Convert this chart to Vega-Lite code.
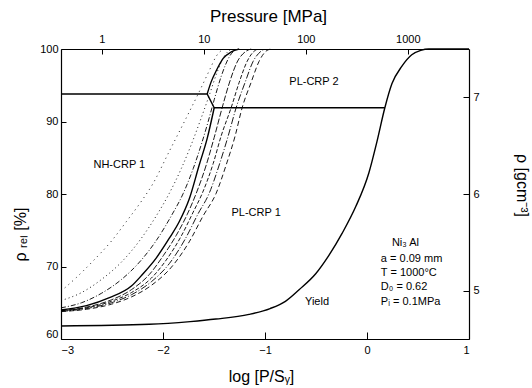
{
  "$schema": "https://vega.github.io/schema/vega-lite/v6.json",
  "width": 408,
  "height": 290,
  "autosize": {"type": "none"},
  "padding": {"left": 61, "top": 49, "right": 63, "bottom": 49},
  "background": "white",
  "config": {
    "font": "Liberation Sans",
    "view": {"stroke": null},
    "axis": {"grid": false, "domainColor": "black", "domainWidth": 1.2, "tickColor": "black", "tickWidth": 1, "labelColor": "black", "titleColor": "black", "labelFontSize": 11, "titleFontSize": 16, "titleFontWeight": "normal", "labelFont": "Liberation Sans", "titleFont": "Liberation Sans"}
  },
  "datasets": {
    "boundary": [
      {"s": "boundary", "x": -3, "y": 93.8},
      {"s": "boundary", "x": -1.567, "y": 93.8},
      {"s": "boundary", "x": -1.498, "y": 91.9},
      {"s": "boundary", "x": 0.175, "y": 91.9}
    ],
    "curves": [
      {"s": "yield", "x": -3, "y": 61.8},
      {"s": "yield", "x": -2.134, "y": 62.03},
      {"s": "yield", "x": -1.734, "y": 62.4},
      {"s": "yield", "x": -1.481, "y": 62.75},
      {"s": "yield", "x": -1.156, "y": 63.4},
      {"s": "yield", "x": -0.95, "y": 64.2},
      {"s": "yield", "x": -0.8, "y": 65.2},
      {"s": "yield", "x": -0.666, "y": 66.8},
      {"s": "yield", "x": -0.503, "y": 69.0},
      {"s": "yield", "x": -0.375, "y": 71.5},
      {"s": "yield", "x": -0.243, "y": 74.6},
      {"s": "yield", "x": -0.109, "y": 78.3},
      {"s": "yield", "x": 0.018, "y": 82.9},
      {"s": "yield", "x": 0.097, "y": 87.2},
      {"s": "yield", "x": 0.175, "y": 91.9},
      {"s": "yield", "x": 0.244, "y": 95.2},
      {"s": "yield", "x": 0.341, "y": 97.6},
      {"s": "yield", "x": 0.439, "y": 99.2},
      {"s": "yield", "x": 0.527, "y": 99.8},
      {"s": "yield", "x": 0.605, "y": 100},
      {"s": "yield", "x": 1.0, "y": 100},
      {"s": "solidLower", "x": -3, "y": 64.0},
      {"s": "solidLower", "x": -2.75, "y": 64.6},
      {"s": "solidLower", "x": -2.525, "y": 65.7},
      {"s": "solidLower", "x": -2.31, "y": 67.3},
      {"s": "solidLower", "x": -2.202, "y": 68.9},
      {"s": "solidLower", "x": -2.065, "y": 71.2},
      {"s": "solidLower", "x": -1.938, "y": 73.9},
      {"s": "solidLower", "x": -1.84, "y": 76.2},
      {"s": "solidLower", "x": -1.743, "y": 79.3},
      {"s": "solidLower", "x": -1.645, "y": 84.0},
      {"s": "solidLower", "x": -1.566, "y": 87.7},
      {"s": "solidLower", "x": -1.498, "y": 91.9},
      {"s": "solidUpper", "x": -1.567, "y": 93.8},
      {"s": "solidUpper", "x": -1.527, "y": 95.5},
      {"s": "solidUpper", "x": -1.478, "y": 97.0},
      {"s": "solidUpper", "x": -1.41, "y": 98.7},
      {"s": "solidUpper", "x": -1.331, "y": 99.6},
      {"s": "solidUpper", "x": -1.253, "y": 100}
    ],
    "dashed": [
      {"s": "L1", "x": -3, "y": 66.6},
      {"s": "L1", "x": -2.848, "y": 68.5},
      {"s": "L1", "x": -2.69, "y": 70.7},
      {"s": "L1", "x": -2.506, "y": 73.5},
      {"s": "L1", "x": -2.359, "y": 76.2},
      {"s": "L1", "x": -2.212, "y": 79.0},
      {"s": "L1", "x": -2.104, "y": 81.3},
      {"s": "L1", "x": -1.938, "y": 85.9},
      {"s": "L1", "x": -1.772, "y": 90.5},
      {"s": "L1", "x": -1.645, "y": 94.1},
      {"s": "L1", "x": -1.547, "y": 97.0},
      {"s": "L1", "x": -1.478, "y": 99.0},
      {"s": "L1", "x": -1.41, "y": 100},
      {"s": "L2", "x": -3, "y": 65.3},
      {"s": "L2", "x": -2.799, "y": 66.4},
      {"s": "L2", "x": -2.604, "y": 68.2},
      {"s": "L2", "x": -2.408, "y": 70.6},
      {"s": "L2", "x": -2.212, "y": 73.9},
      {"s": "L2", "x": -2.065, "y": 77.0},
      {"s": "L2", "x": -1.938, "y": 80.1},
      {"s": "L2", "x": -1.821, "y": 83.5},
      {"s": "L2", "x": -1.723, "y": 86.8},
      {"s": "L2", "x": -1.625, "y": 90.5},
      {"s": "L2", "x": -1.547, "y": 93.6},
      {"s": "L2", "x": -1.469, "y": 96.8},
      {"s": "L2", "x": -1.4, "y": 99.0},
      {"s": "L2", "x": -1.331, "y": 100},
      {"s": "L3", "x": -3, "y": 64.3},
      {"s": "L3", "x": -2.799, "y": 65.0},
      {"s": "L3", "x": -2.604, "y": 66.3},
      {"s": "L3", "x": -2.408, "y": 68.2},
      {"s": "L3", "x": -2.212, "y": 70.9},
      {"s": "L3", "x": -2.065, "y": 73.6},
      {"s": "L3", "x": -1.918, "y": 77.0},
      {"s": "L3", "x": -1.801, "y": 80.1},
      {"s": "L3", "x": -1.704, "y": 83.5},
      {"s": "L3", "x": -1.625, "y": 86.8},
      {"s": "L3", "x": -1.557, "y": 90.0},
      {"s": "L3", "x": -1.498, "y": 93.0},
      {"s": "L3", "x": -1.43, "y": 96.2},
      {"s": "L3", "x": -1.351, "y": 98.9},
      {"s": "L3", "x": -1.283, "y": 100},
      {"s": "R1", "x": -3, "y": 63.9},
      {"s": "R1", "x": -2.75, "y": 64.4},
      {"s": "R1", "x": -2.506, "y": 65.4},
      {"s": "R1", "x": -2.31, "y": 66.8},
      {"s": "R1", "x": -2.134, "y": 68.9},
      {"s": "R1", "x": -1.997, "y": 71.5},
      {"s": "R1", "x": -1.87, "y": 74.3},
      {"s": "R1", "x": -1.762, "y": 77.2},
      {"s": "R1", "x": -1.674, "y": 80.1},
      {"s": "R1", "x": -1.576, "y": 84.0},
      {"s": "R1", "x": -1.498, "y": 87.8},
      {"s": "R1", "x": -1.42, "y": 91.9},
      {"s": "R1", "x": -1.35, "y": 95.3},
      {"s": "R1", "x": -1.273, "y": 98.2},
      {"s": "R1", "x": -1.185, "y": 99.7},
      {"s": "R1", "x": -1.136, "y": 100},
      {"s": "R2", "x": -3, "y": 63.9},
      {"s": "R2", "x": -2.75, "y": 64.3},
      {"s": "R2", "x": -2.506, "y": 65.2},
      {"s": "R2", "x": -2.31, "y": 66.4},
      {"s": "R2", "x": -2.114, "y": 68.4},
      {"s": "R2", "x": -1.968, "y": 70.9},
      {"s": "R2", "x": -1.821, "y": 74.2},
      {"s": "R2", "x": -1.704, "y": 77.5},
      {"s": "R2", "x": -1.615, "y": 80.1},
      {"s": "R2", "x": -1.508, "y": 84.2},
      {"s": "R2", "x": -1.43, "y": 88.0},
      {"s": "R2", "x": -1.332, "y": 91.9},
      {"s": "R2", "x": -1.253, "y": 95.4},
      {"s": "R2", "x": -1.175, "y": 98.3},
      {"s": "R2", "x": -1.106, "y": 99.7},
      {"s": "R2", "x": -1.067, "y": 100},
      {"s": "R3", "x": -3, "y": 63.8},
      {"s": "R3", "x": -2.75, "y": 64.2},
      {"s": "R3", "x": -2.506, "y": 65.0},
      {"s": "R3", "x": -2.31, "y": 66.1},
      {"s": "R3", "x": -2.114, "y": 67.9},
      {"s": "R3", "x": -1.938, "y": 70.4},
      {"s": "R3", "x": -1.782, "y": 73.8},
      {"s": "R3", "x": -1.655, "y": 77.3},
      {"s": "R3", "x": -1.547, "y": 80.1},
      {"s": "R3", "x": -1.449, "y": 84.0},
      {"s": "R3", "x": -1.361, "y": 88.0},
      {"s": "R3", "x": -1.283, "y": 91.9},
      {"s": "R3", "x": -1.195, "y": 95.4},
      {"s": "R3", "x": -1.116, "y": 98.3},
      {"s": "R3", "x": -1.038, "y": 99.7},
      {"s": "R3", "x": -0.999, "y": 100},
      {"s": "R4", "x": -3, "y": 63.8},
      {"s": "R4", "x": -2.75, "y": 64.1},
      {"s": "R4", "x": -2.506, "y": 64.8},
      {"s": "R4", "x": -2.31, "y": 65.8},
      {"s": "R4", "x": -2.114, "y": 67.4},
      {"s": "R4", "x": -1.918, "y": 69.9},
      {"s": "R4", "x": -1.743, "y": 73.4},
      {"s": "R4", "x": -1.606, "y": 77.0},
      {"s": "R4", "x": -1.479, "y": 80.1},
      {"s": "R4", "x": -1.381, "y": 84.0},
      {"s": "R4", "x": -1.293, "y": 88.0},
      {"s": "R4", "x": -1.224, "y": 91.9},
      {"s": "R4", "x": -1.136, "y": 95.4},
      {"s": "R4", "x": -1.058, "y": 98.3},
      {"s": "R4", "x": -0.99, "y": 99.7},
      {"s": "R4", "x": -0.94, "y": 100}
    ],
    "regions": [
      {"x": -2.428, "y": 84.0, "label": "NH-CRP 1"},
      {"x": -1.087, "y": 77.4, "label": "PL-CRP 1"},
      {"x": -0.52, "y": 95.4, "label": "PL-CRP 2"},
      {"x": -0.49, "y": 65.1, "label": "Yield"}
    ],
    "info": [
      {"x": 0.244, "y": 73.2, "label": "Ni₃ Al"},
      {"x": 0.136, "y": 71.0, "label": "a  = 0.09 mm"},
      {"x": 0.136, "y": 69.1, "label": "T  = 1000°C"},
      {"x": 0.136, "y": 67.2, "label": "D₀ = 0.62"},
      {"x": 0.136, "y": 65.1, "label": "Pᵢ = 0.1MPa"}
    ],
    "dual": [
      {"P": 1, "rho": 5},
      {"P": 1000, "rho": 7}
    ]
  },
  "layer": [
    {
      "layer": [
        {
          "data": {"name": "boundary"},
          "mark": {"type": "line", "color": "black", "strokeWidth": 1.4},
          "encoding": {
            "x": {"field": "x", "type": "quantitative", "scale": {"domain": [-3, 1], "nice": false, "zero": false},
              "axis": {"orient": "bottom", "values": [-3, -2, -1, 0, 1], "format": "d", "title": "log [P/Sᵧ]", "tickSize": -7, "labelPadding": 12, "titleX": 200, "titleY": 37, "titleBaseline": "middle", "titleAnchor": null, "titleFontSize": 16}},
            "y": {"field": "y", "type": "quantitative", "scale": {"domain": [60, 100], "nice": false, "zero": false},
              "axis": {"orient": "left", "values": [60, 70, 80, 90, 100], "title": "ρ ᵣₑₗ [%]", "tickSize": -5, "labelPadding": 8,
                "labelBaseline": {"condition": {"test": "datum.value == 60", "value": "bottom"}, "value": "middle"},
                "titleAngle": -90, "titleX": -41, "titleY": 185, "titleAlign": "center", "titleBaseline": "middle", "titleAnchor": null}}
          }
        },
        {
          "data": {"name": "curves"},
          "mark": {"type": "line", "color": "black", "strokeWidth": 1.4, "interpolate": "monotone"},
          "encoding": {
            "x": {"field": "x", "type": "quantitative"},
            "y": {"field": "y", "type": "quantitative"},
            "detail": {"field": "s"}
          }
        },
        {
          "data": {"name": "dashed"},
          "mark": {"type": "line", "color": "black", "strokeWidth": 0.9, "interpolate": "monotone"},
          "encoding": {
            "x": {"field": "x", "type": "quantitative"},
            "y": {"field": "y", "type": "quantitative"},
            "strokeDash": {"field": "s", "type": "nominal", "legend": null,
              "scale": {"domain": ["L1", "L2", "L3", "R1", "R2", "R3", "R4"],
                "range": [[1, 4], [1, 3], [5, 2, 1, 2], [6, 2], [4, 2], [7, 2, 1, 2], [5, 3]]}}
          }
        },
        {
          "data": {"name": "regions"},
          "mark": {"type": "text", "fontSize": 11, "color": "black", "align": "center", "baseline": "middle", "font": "Liberation Sans"},
          "encoding": {
            "x": {"field": "x", "type": "quantitative"},
            "y": {"field": "y", "type": "quantitative"},
            "text": {"field": "label"}
          }
        },
        {
          "data": {"name": "info"},
          "mark": {"type": "text", "fontSize": 11, "color": "black", "align": "left", "baseline": "middle", "font": "Liberation Sans"},
          "encoding": {
            "x": {"field": "x", "type": "quantitative"},
            "y": {"field": "y", "type": "quantitative"},
            "text": {"field": "label"}
          }
        }
      ]
    },
    {
      "data": {"name": "dual"},
      "mark": {"type": "point", "opacity": 0},
      "encoding": {
        "x": {"field": "P", "type": "quantitative", "scale": {"type": "log", "domain": [0.398, 3981], "nice": false},
          "axis": {"orient": "top", "values": [1, 10, 100, 1000], "format": "d", "title": "Pressure [MPa]", "tickSize": -5, "labelPadding": 10, "titleX": 207, "titleY": -33, "titleBaseline": "middle", "titleAnchor": null, "titleFontSize": 17}},
        "y": {"field": "rho", "type": "quantitative", "scale": {"domain": [4.5, 7.5], "nice": false, "zero": false},
          "axis": {"orient": "right", "values": [5, 6, 7], "format": "d", "title": "ρ [gcm⁻³]", "tickSize": -6, "labelPadding": 10, "titleAngle": 90, "titleX": 52, "titleY": 136, "titleAlign": "center", "titleBaseline": "middle", "titleAnchor": null}}
      }
    }
  ],
  "resolve": {"scale": {"x": "independent", "y": "independent"}, "axis": {"x": "independent", "y": "independent"}}
}
